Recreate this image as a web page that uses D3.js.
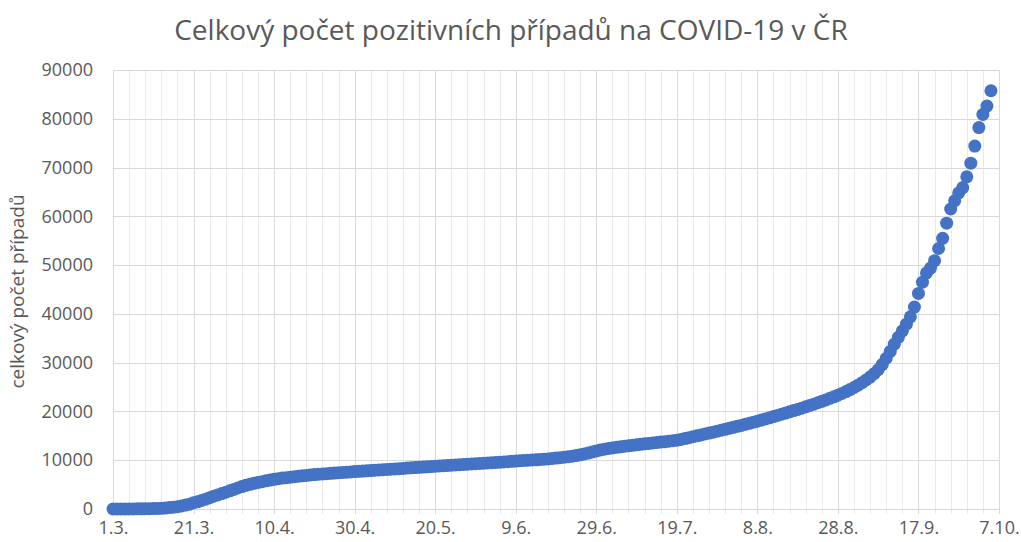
<!DOCTYPE html>
<html>
<head>
<meta charset="utf-8">
<script src="https://cdn.jsdelivr.net/npm/d3@7"></script>
<style>
  body { margin: 0; background: #fff; }
  text { font-family: "Open Sans", sans-serif; fill: #595959; }
</style>
</head>
<body>
<div id="chart"></div>
<script>
// first day of the series, one value per day after it
var startDate = new Date(Date.UTC(2020, 2, 1));

// cumulative positive cases (1.3. - 5.10.2020)
var casesMarch = [3, 3, 5, 5, 8, 19, 26, 32, 38, 63, 94, 116, 141, 189, 298, 383, 464, 615, 800, 995,
    1290, 1480, 1760, 2010, 2320, 2630, 2890, 3160, 3430, 3720, 4010];
var casesApril = [4320, 4600, 4850, 5060, 5260, 5430, 5600, 5770, 5930, 6080, 6210, 6330, 6430, 6530, 6630,
    6720, 6810, 6890, 6970, 7050, 7120, 7190, 7250, 7310, 7370, 7430, 7490, 7550, 7610, 7670];
var casesMay = [7720, 7770, 7820, 7880, 7940, 8000, 8060, 8120, 8170, 8220, 8270, 8320, 8380, 8440, 8500,
    8550, 8600, 8650, 8700, 8760, 8820, 8880, 8930, 8980, 9030, 9080, 9130, 9180, 9230, 9280, 9330];
var casesJune = [9380, 9430, 9480, 9530, 9590, 9650, 9710, 9770, 9830, 9890, 9940, 9990, 10040, 10090, 10150,
    10210, 10270, 10350, 10430, 10520, 10610, 10710, 10830, 10960, 11110, 11280, 11470, 11680, 11900, 12100];
var casesJuly = [12260, 12400, 12530, 12640, 12750, 12860, 12960, 13060, 13160, 13260, 13360, 13450, 13540,
    13630, 13720, 13810, 13900, 14000, 14110, 14270, 14440, 14620, 14810, 15000, 15190, 15380, 15570, 15760,
    15950, 16140, 16340];
var casesAugust = [16540, 16740, 16940, 17140, 17350, 17560, 17780, 18010, 18240, 18470, 18700, 18940, 19180,
    19420, 19670, 19920, 20170, 20420, 20680, 20950, 21220, 21500, 21780, 22070, 22370, 22680, 23000, 23330,
    23700, 24080, 24480];
var casesSeptember = [24910, 25390, 25900, 26450, 27050, 27750, 28550, 29600, 30900, 32300, 33800, 35200,
    36500, 37900, 39400, 41400, 44200, 46500, 48400, 49400, 50900, 53400, 55500, 58600, 61500, 63200, 64800,
    65900, 68100, 70900];
var casesOctober = [74400, 78200, 80900, 82600, 85750];

var yTicks = [0, 10000, 20000, 30000, 40000, 50000, 60000, 70000, 80000, 90000];
var xTickStep = 20;   // days between labelled dates
var xMinorStep = 4;   // days between light grid lines
var xDays = 220;      // axis runs 1.3. - 7.10.

var titleText = "Celkový počet pozitivních případů na COVID-19 v ČR";
var yTitleText = "celkový počet případů";

function init() {
    var width = 1021;
    var height = 542;
    var margin = {top: 70, right: 22, bottom: 33, left: 113};

    var cases = [].concat(casesMarch, casesApril, casesMay, casesJune, casesJuly,
        casesAugust, casesSeptember, casesOctober);
    var data = cases.map(function (v, i) {
        return {date: d3.utcDay.offset(startDate, i), value: v};
    });

    var svg = d3.select("#chart")
        .append("svg")
        .attr("width", width)
        .attr("height", height);

    var x = d3.scaleUtc()
        .domain([startDate, d3.utcDay.offset(startDate, xDays)])
        .range([margin.left, width - margin.right]);

    var y = d3.scaleLinear()
        .domain([0, 90000])
        .range([height - margin.bottom, margin.top]);

    var minorDates = d3.range(0, xDays + 1, xMinorStep).map(d => d3.utcDay.offset(startDate, d));
    var majorDates = d3.range(0, xDays + 1, xTickStep).map(d => d3.utcDay.offset(startDate, d));

    // light vertical grid every 4 days
    svg.append("g")
        .selectAll("line")
        .data(minorDates)
        .enter()
        .append("line")
        .attr("x1", d => Math.round(x(d)) + 0.5)
        .attr("x2", d => Math.round(x(d)) + 0.5)
        .attr("y1", margin.top)
        .attr("y2", height - margin.bottom + 5)
        .attr("stroke", "#e9e9e9")
        .attr("stroke-width", 1);

    // horizontal grid
    svg.append("g")
        .selectAll("line")
        .data(yTicks)
        .enter()
        .append("line")
        .attr("x1", margin.left)
        .attr("x2", width - margin.right)
        .attr("y1", d => Math.round(y(d)) + 0.5)
        .attr("y2", d => Math.round(y(d)) + 0.5)
        .attr("stroke", "#d9d9d9")
        .attr("stroke-width", 1);

    // stronger vertical grid at labelled dates
    svg.append("g")
        .selectAll("line")
        .data(majorDates)
        .enter()
        .append("line")
        .attr("x1", d => Math.round(x(d)) + 0.5)
        .attr("x2", d => Math.round(x(d)) + 0.5)
        .attr("y1", margin.top)
        .attr("y2", height - margin.bottom + 5)
        .attr("stroke", "#d9d9d9")
        .attr("stroke-width", 1);

    // y axis labels
    var yAxis = svg.append("g")
        .attr("transform", "translate(" + margin.left + ",0)")
        .call(d3.axisLeft(y).tickValues(yTicks).tickFormat(d3.format("d")).tickSize(0).tickPadding(20));
    yAxis.select(".domain").remove();
    yAxis.selectAll("text")
        .style("font-size", "18px")
        .style("font-family", "'Open Sans', sans-serif")
        .attr("fill", "#595959");

    // x axis labels
    var xAxis = svg.append("g")
        .attr("transform", "translate(0," + (height - margin.bottom) + ")")
        .call(d3.axisBottom(x).tickValues(majorDates).tickFormat(d3.utcFormat("%-d.%-m.")).tickSize(0).tickPadding(12));
    xAxis.select(".domain").remove();
    xAxis.selectAll("text")
        .style("font-size", "18px")
        .style("font-family", "'Open Sans', sans-serif")
        .attr("fill", "#595959");

    // points
    svg.append("g")
        .selectAll("circle")
        .data(data)
        .enter()
        .append("circle")
        .attr("cx", d => x(d.date))
        .attr("cy", d => y(d.value))
        .attr("r", 6.5)
        .attr("fill", "#4472c4");

    // title
    svg.append("text")
        .attr("x", 511)
        .attr("y", 40)
        .attr("text-anchor", "middle")
        .style("font-size", "28px")
        .text(titleText);

    // y title
    svg.append("text")
        .attr("transform", "translate(24," + ((margin.top + height - margin.bottom) / 2 + 2) + ") rotate(-90)")
        .attr("text-anchor", "middle")
        .style("font-size", "19px")
        .text(yTitleText);
}

window.onload = init;
</script>
</body>
</html>
